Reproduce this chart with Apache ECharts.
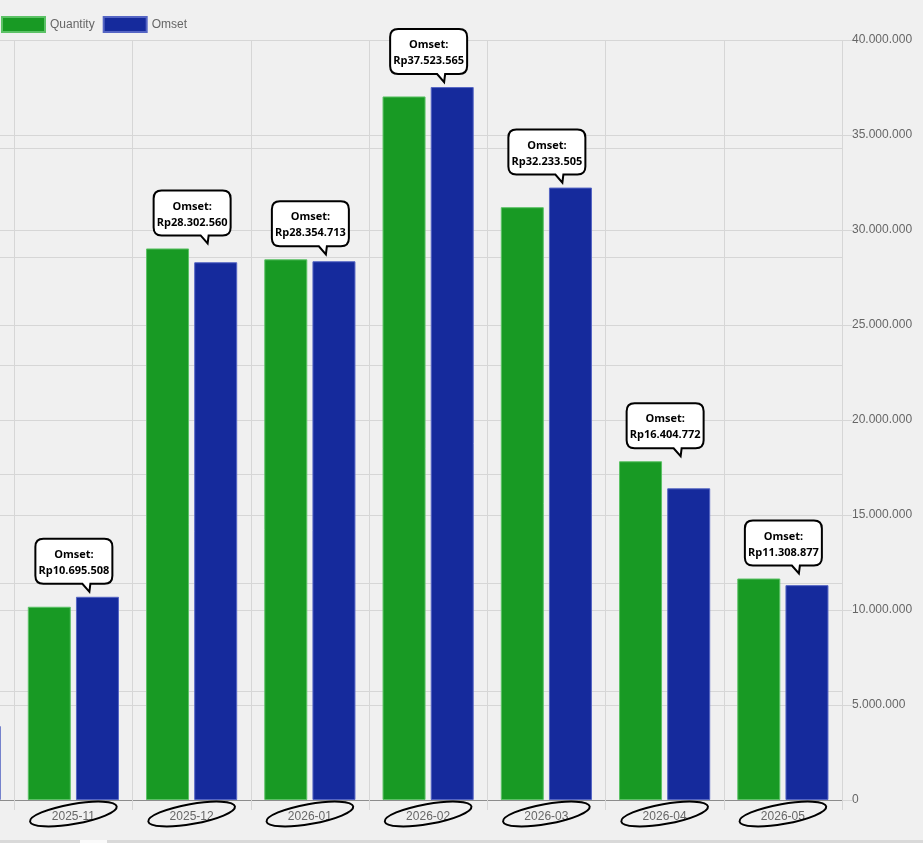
<!DOCTYPE html>
<html>
<head>
<meta charset="utf-8">
<script src="https://cdn.jsdelivr.net/npm/echarts@6/dist/echarts.min.js"></script>
<style>
  html, body { margin: 0; padding: 0; background: #f0f0f0; overflow: hidden; }
  #wrap { width: 923px; height: 843px; overflow: hidden; position: relative; }
  /* chart is wider than the window; the first month sits off screen on the left */
  #main { width: 1027px; height: 843px; position: absolute; left: -104px; top: 0; }
</style>
</head>
<body>
<div id="wrap"><div id="main"></div></div>
<script>
  // data
  var categories = ['2025-10', '2025-11', '2025-12', '2026-01', '2026-02', '2026-03', '2026-04', '2026-05'];
  var quantityData = [34, 89, 254, 249, 324, 273, 156, 102];
  var omsetData = [3894000, 10695508, 28302560, 28354713, 37523565, 32233505, 16404772, 11308877];
  var omsetTicks = [0, 5000000, 10000000, 15000000, 20000000, 25000000, 30000000, 35000000, 40000000];

  var QTY_MAX = 350;
  var OMSET_MAX = omsetTicks[omsetTicks.length - 1];
  var SHIFT = 104;

  function fmt(v) {
    return String(v).replace(/\B(?=(\d{3})+(?!\d))/g, '.');
  }

  var gridColor = '#d6d6d6';
  var labelFont = '"Liberation Sans", Arial, sans-serif';

  var markData = categories.map(function (c, i) {
    return [i, omsetData[i], quantityData[i]];
  });

  // hand-drawn style ellipse round each month label
  function renderEllipse(params, api) {
    var base = api.coord([api.value(0), 0]);
    var cx = base[0], cy = base[1] + 14;
    return {
      type: 'ellipse',
      shape: { cx: cx, cy: cy, rx: 44, ry: 10 },
      rotation: 10 * Math.PI / 180,
      originX: cx,
      originY: cy,
      style: { fill: 'none', stroke: '#000', lineWidth: 2 },
      silent: true
    };
  }

  // callout bubble above each month
  function renderCallout(params, api) {
    var idx = api.value(0);
    var base = api.coord([idx, 0]);
    var topO = api.coord([idx, api.value(1)])[1];
    var topQ = api.coord([idx, api.value(2) / QTY_MAX * OMSET_MAX])[1];
    var tipY = Math.min(topO, topQ) - 5;
    var tx = base[0] + 16;
    var W = 77, H = 45, r = 8;
    var B = tipY - 8, T = B - H, L = tx - 54, R = L + W;
    var d = 'M' + (L + r) + ' ' + T +
      ' L' + (R - r) + ' ' + T +
      ' Q' + R + ' ' + T + ' ' + R + ' ' + (T + r) +
      ' L' + R + ' ' + (B - r) +
      ' Q' + R + ' ' + B + ' ' + (R - r) + ' ' + B +
      ' L' + (tx + 1) + ' ' + B +
      ' L' + tx + ' ' + tipY +
      ' L' + (tx - 7) + ' ' + B +
      ' L' + (L + r) + ' ' + B +
      ' Q' + L + ' ' + B + ' ' + L + ' ' + (B - r) +
      ' L' + L + ' ' + (T + r) +
      ' Q' + L + ' ' + T + ' ' + (L + r) + ' ' + T + ' Z';
    var cxText = L + W / 2;
    return {
      type: 'group',
      silent: true,
      children: [
        { type: 'path', shape: { pathData: d }, style: { fill: '#fff', stroke: '#000', lineWidth: 2 } },
        { type: 'text', style: { text: 'Omset:', x: cxText, y: T + 16, align: 'center', verticalAlign: 'middle',
            font: 'bold 11px "Open Sans", "Noto Sans", sans-serif', fill: '#000' } },
        { type: 'text', style: { text: 'Rp' + fmt(api.value(1)), x: cxText, y: T + 32, align: 'center', verticalAlign: 'middle',
            font: 'bold 11px "Open Sans", "Noto Sans", sans-serif', fill: '#000' } }
      ]
    };
  }

  var myChart = echarts.init(document.getElementById('main'));
  var option = {
    backgroundColor: '#f0f0f0',
    animation: false,
    textStyle: { fontFamily: labelFont },
    legend: {
      data: ['Quantity', 'Omset'],
      left: SHIFT + 1,
      top: 16,
      padding: 0,
      itemWidth: 43,
      itemHeight: 15,
      itemGap: 8,
      icon: 'rect',
      textStyle: { color: '#666', fontSize: 12, fontFamily: labelFont }
    },
    grid: {
      left: 0,
      right: 81,
      top: 40,
      bottom: 43
    },
    xAxis: {
      type: 'category',
      data: categories,
      axisLine: { lineStyle: { color: '#8c8c8c' } },
      axisTick: { show: true, length: 10, lineStyle: { color: gridColor } },
      axisLabel: { color: '#666', fontSize: 12, margin: 11, fontFamily: labelFont },
      splitLine: { show: true, lineStyle: { color: gridColor } }
    },
    yAxis: [
      {
        type: 'value',
        position: 'left',
        min: 0,
        max: QTY_MAX,
        interval: 50,
        axisLabel: { show: false },
        axisLine: { show: false },
        axisTick: { show: false },
        splitLine: { show: true, lineStyle: { color: gridColor } }
      },
      {
        type: 'value',
        position: 'right',
        min: 0,
        max: OMSET_MAX,
        interval: omsetTicks[1],
        axisLine: { show: false },
        axisTick: { show: true, length: 10, lineStyle: { color: gridColor } },
        axisLabel: {
          color: '#666', fontSize: 12, margin: 10, fontFamily: labelFont,
          formatter: function (v) { return fmt(v); }
        },
        splitLine: { show: true, lineStyle: { color: gridColor } }
      }
    ],
    series: [
      {
        name: 'Quantity',
        type: 'bar',
        yAxisIndex: 0,
        barWidth: 43,
        barGap: '12%',
        itemStyle: { color: '#189a24', borderColor: '#5cc266', borderWidth: 1 },
        emphasis: { disabled: true },
        data: quantityData
      },
      {
        name: 'Omset',
        type: 'bar',
        yAxisIndex: 1,
        barWidth: 43,
        itemStyle: { color: '#152a9c', borderColor: '#5565c4', borderWidth: 1 },
        emphasis: { disabled: true },
        data: omsetData
      },
      {
        type: 'custom',
        yAxisIndex: 1,
        renderItem: renderEllipse,
        clip: false,
        z: 5,
        data: markData
      },
      {
        type: 'custom',
        yAxisIndex: 1,
        renderItem: renderCallout,
        clip: false,
        z: 6,
        data: markData
      }
    ],
    graphic: [
      { type: 'rect', shape: { x: SHIFT, y: 840, width: 923, height: 3 }, style: { fill: '#d9d9d9' }, silent: true },
      { type: 'rect', shape: { x: SHIFT + 80, y: 840, width: 27, height: 3 }, style: { fill: '#fafafa' }, silent: true }
    ]
  };
  myChart.setOption(option);
</script>
</body>
</html>
